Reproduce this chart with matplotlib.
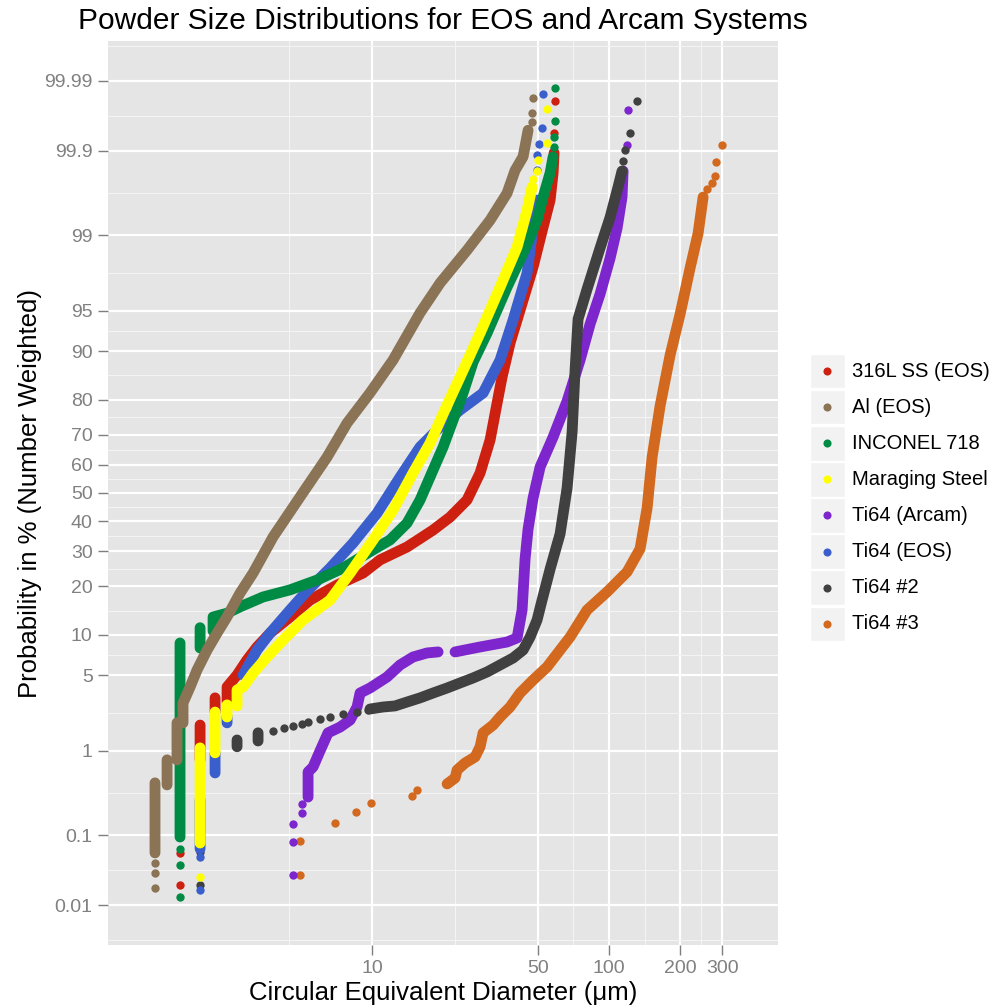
import numpy as np
import matplotlib
matplotlib.use("Agg")
import matplotlib.pyplot as plt
from matplotlib.ticker import FixedLocator, NullFormatter, FixedFormatter
from matplotlib.patches import Rectangle
from statistics import NormalDist

nan = np.nan

# series names / colours (legend order)
names = ['316L SS (EOS)', 'Al (EOS)', 'INCONEL 718', 'Maraging Steel',
         'Ti64 (Arcam)', 'Ti64 (EOS)', 'Ti64 #2', 'Ti64 #3']
colors = ['#CD2010', '#8B7355', '#008B45', '#FFFF00',
          '#7D26CD', '#3A5FCD', '#404040', '#D2691E']

# dense parts (diameter in um, cumulative probability in %), nan = gap
ss_d = [1.881, 1.881, nan, 2.176, 2.176, nan, 2.445, 2.445, 2.694, 2.969, 3.272, 3.712, 4.508, 5.476, 7.118,
        9.164, 10.81, 14.05, 18.09, 21.34, 25.16, 28.56, 31.47, 33.69, 35.36, 38.22, 42.12, 47.79, 52.67,
        56.38, 58.05, 58.61]
ss_p = [0.80, 1.81, nan, 2.40, 3.22, nan, 2.96, 4.00, 5.02, 6.59, 8.23, 10.3, 13.15, 16.7, 20.3,
        23.5, 27.3, 31.3, 36.9, 41.4, 47.49, 57.18, 68.37, 79.16, 85.24, 91.21, 95.07, 97.93, 99.18,
        99.59, 99.806, 99.893]
al_d = [1.214, 1.214, nan, 1.365, 1.365, nan, 1.503, 1.503, nan, 1.594, 1.594, 1.707, 1.826, 2.013, 2.218,
        2.445, 2.773, 3.148, 3.823, 4.969, 6.459, 7.845, 9.807, 12.26, 15.94, 19.37, 25.16, 31.47, 37.12,
        40.10, 43.37, 45.53]
al_p = [0.058, 0.444, nan, 0.421, 0.80, nan, 0.80, 1.90, nan, 1.90, 2.90, 4.0, 5.5, 7.8, 10.3,
        13.2, 18.3, 23.5, 34.6, 48.6, 62.7, 73.6, 81.7, 88.5, 94.8, 97.1, 98.58, 99.31, 99.66,
        99.82, 99.88, 99.947]
in_d = [1.548, 1.548, nan, 1.881, 1.881, nan, 2.134, 2.134, 2.445, 2.773, 3.468, 4.508, 5.862, 7.545, 10.10,
        11.91, 14.05, 15.94, 18.09, 19.94, 21.97, 24.21, 26.68, 30.57, 37.12, 43.37, 49.69, 52.67, 56.38, 58.05]
in_p = [0.095, 8.79, nan, 8.09, 11.2, nan, 10.65, 13.15, 13.9, 15.2, 17.4, 19.1, 21.6, 24.9, 30.4,
        33.6, 39.3, 47.49, 58.24, 66.1, 74.5, 81.67, 88.14, 92.56, 96.85, 98.48, 99.31, 99.622, 99.806, 99.879]
ms_d = [1.881, 1.881, nan, 2.176, 2.176, nan, 2.445, 2.445, nan, 2.694, 2.694, 2.856, 3.148, 3.606, 4.213,
        5.116, 6.650, 8.078, 10.10, 12.26, 14.89, 17.57, 20.73, 23.51, 28.56, 34.68, 40.91, 45.09, 47.33]
ms_p = [0.079, 1.07, nan, 0.95, 2.40, nan, 2.16, 2.79, nan, 2.73, 3.77, 4.00, 5.21, 6.94, 9.23,
        12.6, 16.7, 23.5, 33.6, 43.9, 57.18, 67.40, 78.64, 85.24, 92.56, 96.85, 98.68, 99.47, 99.713]
ta_d = [5.370, 5.370, 5.638, 6.035, 6.522, 7.328, 8.078, 8.645, 8.900, 9.807, 11.57, 13.13, 14.89, 17.07,
        18.99, nan, 22.40, 28.56, 37.12, 40.91, 42.95, 44.22, 45.53, 47.79, 51.16, 58.05, 66.50, 75.44,
        83.16, 91.62, 101.0, 108.1, 113.4, 114.6]
ta_p = [0.303, 0.59, 0.67, 1.0, 1.52, 1.73, 2.02, 2.67, 3.55, 3.92, 4.84, 6.03, 6.94, 7.44,
        7.57, nan, 7.57, 8.23, 8.93, 9.53, 14.55, 27.6, 37.3, 48.2, 59.29, 69.32, 79.67, 88.49,
        93.64, 96.38, 98.30, 99.16, 99.622, 99.817]
te_d = [1.881, 1.881, nan, 2.176, 2.176, nan, 2.445, 2.445, nan, 2.856, 3.272, 3.712, 4.508, 5.216, 6.650,
        8.316, 10.50, 13.13, 15.94, 19.37, 23.51, 29.41, 34.68, 39.35, 45.09, 47.79, 49.69]
te_p = [0.066, 0.28, nan, 0.575, 0.95, nan, 1.90, 2.16, nan, 5.02, 7.82, 10.3, 14.55, 18.3, 24.9,
        32.6, 42.8, 55.73, 66.1, 72.44, 77.31, 81.67, 88.49, 94.08, 97.65, 99.18, 99.59]
t2_d = [2.694, 2.694, nan, 3.304, 3.304, nan, 9.807, 11.13, 12.50, 14.05, 15.94, 18.09, 20.73, 23.51, 26.68,
        30.57, 34.68, 39.35, 43.37, 46.42, 49.69, 52.16, 56.38, 62.12, 66.50, 69.83, 71.87, 73.99, 80.77,
        91.62, 101.0, 109.1, 113.4]
t2_p = [1.10, 1.29, nan, 1.26, 1.52, nan, 2.56, 2.67, 2.73, 2.96, 3.22, 3.55, 3.92, 4.32, 4.75,
        5.31, 6.03, 6.82, 7.82, 9.68, 12.6, 16.7, 24.6, 35.6, 51.8, 70.91, 86.65, 94.18, 96.72,
        98.65, 99.36, 99.713, 99.817]
t3_d = [20.73, 22.40, 22.84, 24.68, 27.21, 28.56, 29.41, 32.40, 34.68, 38.22, 42.12, 47.79, 54.76, 62.12,
        68.47, 80.77, 98.08, 119.1, 135.1, 144.7, 151.9, 164.1, 180.9, 199.4, 219.7, 237.5, 249.3]
t3_p = [0.432, 0.505, 0.62, 0.74, 0.86, 1.10, 1.52, 1.81, 2.16, 2.67, 3.55, 4.57, 5.82, 7.82,
        9.68, 14.55, 18.6, 23.8, 30.7, 44.6, 62.74, 78.38, 89.34, 94.70, 97.89, 99.05, 99.622]

# isolated points in the tails
ss_dots_d = [1.548, 1.548, 1.548, 58.61, 59.18]
ss_dots_p = [0.020, 0.058, 0.095, 99.942, 99.980]
al_dots_d = [1.214, 1.214, 1.214, 47.33, 47.33, 47.79]
al_dots_p = [0.018, 0.030, 0.042, 99.959, 99.970, 99.982]
in_dots_d = [1.548, 1.548, 1.548, 58.61, 58.61, 59.18, 59.18]
in_dots_p = [0.0133, 0.039, 0.066, 99.910, 99.934, 99.961, 99.987]
ms_dots_d = [1.881, 47.79, 49.69, 50.17, 54.76, 54.76]
ms_dots_p = [0.026, 99.77, 99.817, 99.867, 99.921, 99.974]
ta_dots_d = [4.642, 4.642, 4.642, 5.066, 5.066, 119.1, 120.3]
ta_dots_p = [0.028, 0.082, 0.141, 0.194, 0.250, 99.916, 99.973]
te_dots_d = [1.881, 1.881, 49.69, 49.69, 50.66, 52.16, 52.67]
te_dots_p = [0.017, 0.051, 99.822, 99.886, 99.918, 99.951, 99.984]
t2_dots_d = [1.881, 1.881, 1.881, 3.823, 4.254, 4.642, 5.066, 5.370, 6.035, 6.650, 7.545, 8.645, 9.619,
             114.6, 116.8, 122.6, 131.3]
t2_dots_p = [0.020, 0.060, 0.098, 1.59, 1.70, 1.77, 1.85, 1.94, 2.07, 2.16, 2.30, 2.40, 2.51,
             99.863, 99.902, 99.942, 99.980]
t3_dots_d = [4.969, 4.969, 6.981, 8.561, 9.903, 14.75, 15.48, 259.2, 272.1, 280.2, 282.9, 299.8]
t3_dots_p = [0.028, 0.084, 0.145, 0.200, 0.257, 0.312, 0.367, 99.70, 99.743, 99.789, 99.859, 99.916]

x_ticks = [10, 50, 100, 200, 300]
y_ticks = [0.01, 0.1, 1, 5, 10, 20, 30, 40, 50, 60, 70, 80, 90, 95, 99, 99.9, 99.99]
y_labels = ['0.01', '0.1', '1', '5', '10', '20', '30', '40', '50', '60', '70', '80', '90',
            '95', '99', '99.9', '99.99']

series = [(ss_d, ss_p, ss_dots_d, ss_dots_p), (al_d, al_p, al_dots_d, al_dots_p),
          (in_d, in_p, in_dots_d, in_dots_p), (ms_d, ms_p, ms_dots_d, ms_dots_p),
          (ta_d, ta_p, ta_dots_d, ta_dots_p), (te_d, te_p, te_dots_d, te_dots_p),
          (t2_d, t2_p, t2_dots_d, t2_dots_p), (t3_d, t3_p, t3_dots_d, t3_dots_p)]
draw_order = [7, 4, 6, 0, 5, 2, 1, 3]

# normal probability scale for y
ND = NormalDist()


def prob_fwd(p):
    p = np.asarray(p, dtype=float)
    flat = np.clip(p.ravel() / 100.0, 1e-10, 1 - 1e-10)
    z = np.array([ND.inv_cdf(v) if np.isfinite(v) else nan for v in flat])
    return z.reshape(p.shape)


def prob_inv(z):
    z = np.asarray(z, dtype=float)
    flat = z.ravel()
    p = np.array([ND.cdf(v) * 100 if np.isfinite(v) else nan for v in flat])
    return p.reshape(z.shape)


plt.rcParams['font.family'] = ['Liberation Sans', 'DejaVu Sans']

W, H = 1004, 1006
fig = plt.figure(figsize=(W / 100, H / 100), dpi=100)
ax = fig.add_axes([108 / W, 1 - 945 / H, (778 - 108) / W, (945 - 41) / H])
ax.set_facecolor('#E5E5E5')
for s in ax.spines.values():
    s.set_visible(False)

ax.set_xscale('log')
ax.set_yscale('function', functions=(prob_fwd, prob_inv))
ax.set_xlim(0.769, 516)
ax.set_ylim(ND.cdf(-4.08) * 100, ND.cdf(4.08) * 100)

# ticks and grid (minor lines halfway between majors, ggplot style)
ax.xaxis.set_major_locator(FixedLocator(x_ticks))
ax.xaxis.set_major_formatter(FixedFormatter([str(t) for t in x_ticks]))
lx = np.log10([2] + x_ticks)
ax.xaxis.set_minor_locator(FixedLocator(10 ** ((lx[:-1] + lx[1:]) / 2)))
ax.xaxis.set_minor_formatter(NullFormatter())

ax.yaxis.set_major_locator(FixedLocator(y_ticks))
ax.yaxis.set_major_formatter(FixedFormatter(y_labels))
zt = prob_fwd(y_ticks)
step = zt[1] - zt[0]
ze = np.concatenate([[zt[0] - step], zt, [zt[-1] + step]])
ax.yaxis.set_minor_locator(FixedLocator(prob_inv((ze[:-1] + ze[1:]) / 2)))
ax.yaxis.set_minor_formatter(NullFormatter())

ax.grid(which='major', color='white', lw=1.6)
ax.grid(which='minor', color='#F4F4F4', lw=0.8)
ax.set_axisbelow(True)
ax.tick_params(which='major', length=7.5, width=1, color='#7F7F7F',
               labelcolor='#808080', labelsize=14, pad=3.5)
ax.tick_params(which='minor', length=0)

for i in draw_order:
    d, p, dd, dp = series[i]
    ax.plot(d, p, color=colors[i], lw=7.8, solid_capstyle='round',
            solid_joinstyle='round', zorder=3)
    ax.scatter(dd, dp, s=36, color=colors[i], lw=0, zorder=3)

fig.text(443 / W, 1 - 21 / H, 'Powder Size Distributions for EOS and Arcam Systems',
         ha='center', va='center', fontsize=21.5)
fig.text(443 / W, 1 - 993 / H, 'Circular Equivalent Diameter (\u03bcm)',
         ha='center', va='center', fontsize=18.5)
fig.text(30 / W, 1 - 493 / H, 'Probability in % (Number Weighted)',
         ha='center', va='center', rotation=90, fontsize=18.5)

# legend with grey keys
row = 36.1
lax = fig.add_axes([810 / W, 1 - (353 + 8 * row) / H, 190 / W, 8 * row / H])
lax.set_xlim(0, 190)
lax.set_ylim(8 * row, 0)
lax.axis('off')
for i, name in enumerate(names):
    y0 = i * row
    lax.add_patch(Rectangle((0, y0 + 0.8), 35, row - 1.6, facecolor='#F2F2F2',
                            edgecolor='white', lw=1))
    lax.scatter(17.5, y0 + row / 2, s=34, color=colors[i], lw=0)
    lax.text(42, y0 + row / 2, name, va='center', ha='left', fontsize=14.5)

fig.savefig('out.png', dpi=100)
